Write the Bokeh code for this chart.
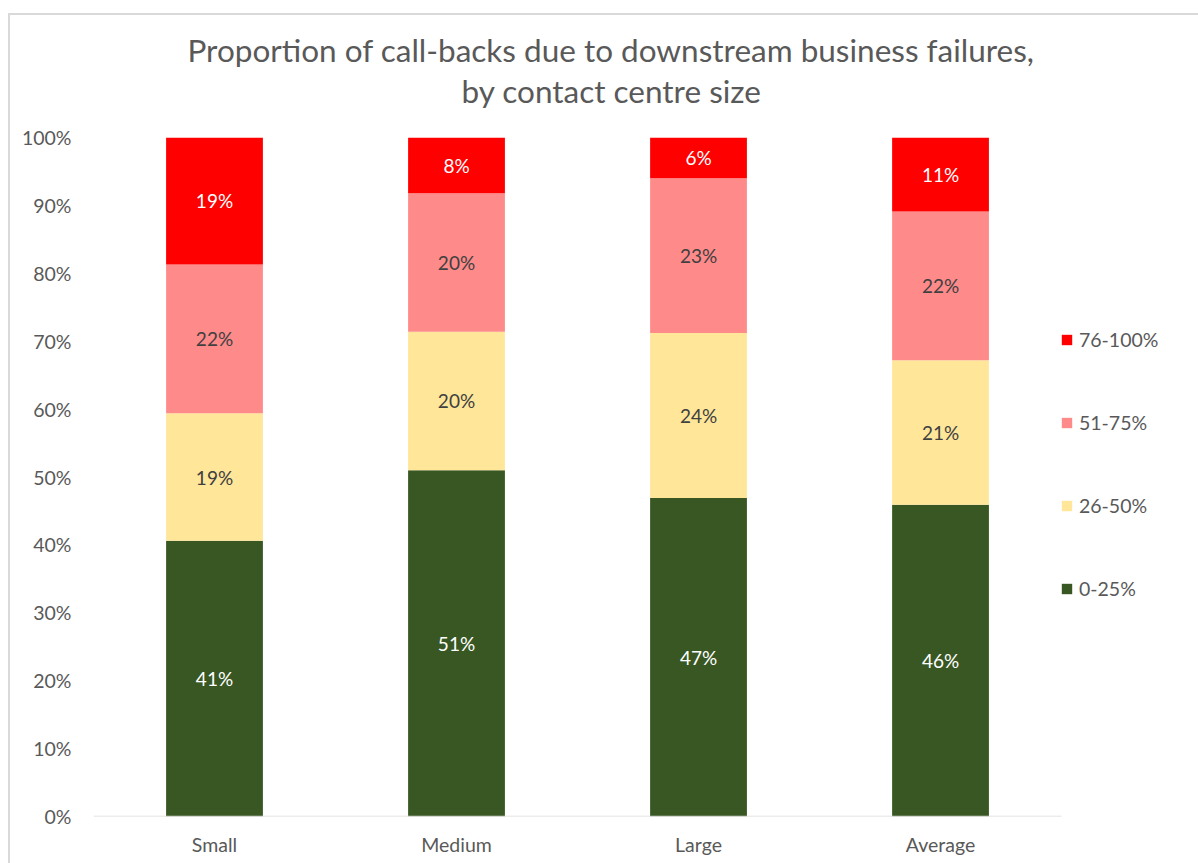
from bokeh.plotting import figure
from bokeh.models import ColumnDataSource, Range1d, Legend, LegendItem, FixedTicker, CustomJSTickFormatter, Title, InlineStyleSheet
from bokeh.core.properties import value
from bokeh.embed import file_html
from bokeh.resources import INLINE

categories = ["Small", "Medium", "Large", "Average"]
series = ["0-25%", "26-50%", "51-75%", "76-100%"]
v_0_25 = [40.6, 51.0, 46.9, 45.9]
v_26_50 = [18.8, 20.4, 24.3, 21.3]
v_51_75 = [21.9, 20.4, 22.8, 21.9]
v_76_100 = [18.7, 8.2, 6.0, 10.9]
colors = ["#385723", "#FFE699", "#FF8A8A", "#FF0000"]
label_colors = ["#FFFFFF", "#404040", "#404040", "#FFFFFF"]
y_ticks = [0, 10, 20, 30, 40, 50, 60, 70, 80, 90, 100]
title_lines = ["Proportion of call-backs due to downstream business failures,", "by contact centre size"]

FONT = "Lato"
GRAY = "#595959"

xpos = list(range(len(categories)))
data = {"x": xpos, "cat": categories}
all_vals = [v_0_25, v_26_50, v_51_75, v_76_100]
for name, vals in zip(series, all_vals):
    data[name] = vals
src = ColumnDataSource(data)

frame_css = InlineStyleSheet(css=""":host::after {
  content: ""; position: absolute; left: 8px; top: 13px; width: 1400px; height: 1000px;
  border: 2px solid #D9D9D9; pointer-events: none; box-sizing: border-box;
}
:host { overflow: hidden; }""")

p = figure(x_range=Range1d(-0.5, 4.066), y_range=Range1d(0, 100), width=1198, height=863,
           output_backend="svg", toolbar_location=None, title_location=None,
           min_border_left=93, min_border_right=0, min_border_top=137, min_border_bottom=47,
           stylesheets=[frame_css])

renderers = p.vbar_stack(series, x="x", width=0.4, source=src, color=colors, line_color=None)

# x axis baseline across the category bands
p.segment(x0=[-0.5], x1=[len(categories) - 0.5], y0=[0], y1=[0], line_color="#D9D9D9", line_width=1.5)

# data labels
for i, name in enumerate(series):
    lows = [sum(v[:i]) for v in zip(*all_vals)]
    vals = all_vals[i]
    mids = [lo + val / 2 for lo, val in zip(lows, vals)]
    texts = [f"{round(val):d}%" for val in vals]
    ls = ColumnDataSource({"x": xpos, "y": mids, "t": texts})
    p.text(x="x", y="y", text="t", source=ls, text_align="center", text_baseline="middle",
           text_font=value(FONT), text_font_size="19px", text_color=label_colors[i])

# two-line title, each line centred independently
t2 = Title(text=title_lines[1], align="left", offset=368, standoff=55, text_font=FONT,
           text_font_size="31.5px", text_font_style="normal", text_color=GRAY)
t1 = Title(text=title_lines[0], align="left", offset=94, standoff=-52, text_font=FONT,
           text_font_size="31.5px", text_font_style="normal", text_color=GRAY)
p.add_layout(t2, "above")
p.add_layout(t1, "above")

p.xgrid.grid_line_color = None
p.ygrid.grid_line_color = None
p.outline_line_color = None

p.yaxis.ticker = FixedTicker(ticks=y_ticks)
p.yaxis.formatter = CustomJSTickFormatter(code="return tick + '%';")
p.yaxis.axis_line_color = None
p.yaxis.major_tick_line_color = None
p.yaxis.minor_tick_line_color = None
p.yaxis.major_label_standoff = 16
p.yaxis.major_label_text_font = FONT
p.yaxis.major_label_text_font_size = "19.5px"
p.yaxis.major_label_text_color = GRAY

p.xaxis.ticker = FixedTicker(ticks=xpos)
p.xaxis.major_label_overrides = {i: c for i, c in zip(xpos, categories)}
p.xaxis.axis_line_color = None
p.xaxis.major_tick_line_color = None
p.xaxis.minor_tick_line_color = None
p.xaxis.major_label_standoff = 10
p.xaxis.major_label_text_font = FONT
p.xaxis.major_label_text_font_size = "19.5px"
p.xaxis.major_label_text_color = GRAY

items = [LegendItem(label=series[i], renderers=[renderers[i]]) for i in [3, 2, 1, 0]]
legend = Legend(items=items, location=(967, 216), margin=0, padding=2,
                glyph_width=13, glyph_height=13, label_height=20, spacing=60,
                label_standoff=6, label_text_font=FONT, label_text_font_size="19.5px",
                label_text_color=GRAY, border_line_color=None, background_fill_alpha=0)
p.add_layout(legend, "center")

p.background_fill_color = "white"
p.border_fill_color = "white"

html = file_html(p, INLINE)
open("out.html", "w").write(html)
